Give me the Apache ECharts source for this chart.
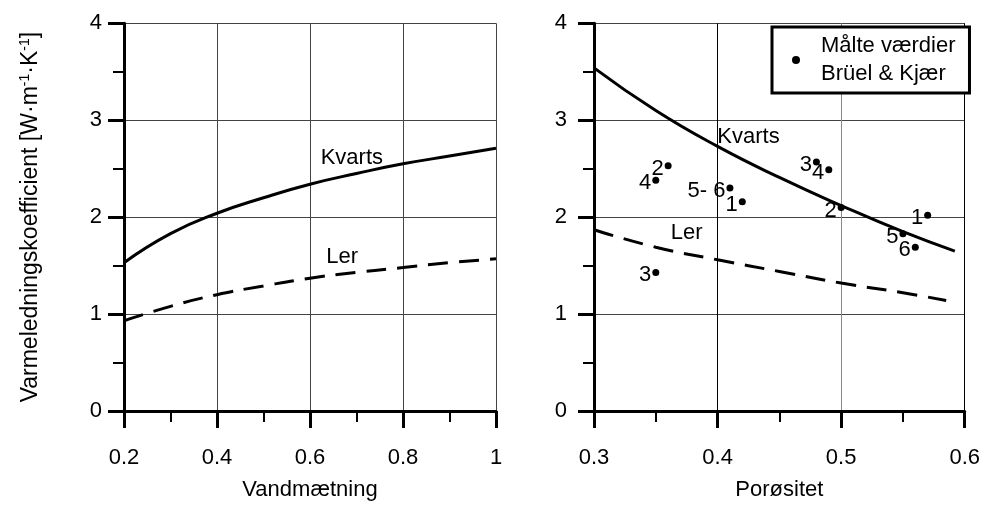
<!DOCTYPE html>
<html>
<head>
<meta charset="utf-8">
<script src="https://cdn.jsdelivr.net/npm/echarts@6/dist/echarts.min.js"></script>
<style>html,body{margin:0;padding:0;background:#fff}#c{width:983px;height:506px}</style>
</head>
<body>
<div id="c"></div>
<script>
// ---- Data ----
// Left panel: thermal conductivity vs water saturation
const satX      = [0.2, 0.3, 0.4, 0.5, 0.6, 0.7, 0.8, 0.9, 1.0];
const kvartsL   = [1.53, 1.83, 2.04, 2.20, 2.34, 2.45, 2.55, 2.63, 2.71];
const lerL      = [0.93, 1.08, 1.20, 1.29, 1.37, 1.43, 1.48, 1.53, 1.57];
// Right panel: thermal conductivity vs porosity
const porXK     = [0.3, 0.35, 0.4, 0.45, 0.5, 0.55, 0.592];
const kvartsR   = [3.54, 3.10, 2.73, 2.41, 2.12, 1.85, 1.65];
const porXL     = [0.3, 0.35, 0.4, 0.45, 0.5, 0.55, 0.585];
const lerR      = [1.87, 1.69, 1.56, 1.44, 1.32, 1.22, 1.14];
// Measured values (Brüel & Kjær)
const ptX       = [0.360, 0.350, 0.410, 0.420, 0.480, 0.490, 0.500, 0.570, 0.550, 0.560, 0.350];
const ptY       = [2.53, 2.38, 2.30, 2.16, 2.57, 2.49, 2.10, 2.02, 1.83, 1.69, 1.43];
const ptLabel   = ['2', '4', '5- 6', '1', '3', '4', '2', '1', '5', '6', '3'];
// Tick labels
const xTicksL   = [0.2, 0.4, 0.6, 0.8, 1];
const xTicksR   = [0.3, 0.4, 0.5, 0.6];
const yTicks    = [0, 1, 2, 3, 4];
// Curve name labels (data coordinates)
const curveNames = ['Kvarts', 'Ler'];
const nameCoordL = [[0.69, 2.61], [0.669, 1.59]];
const nameCoordR = [[0.425, 2.83], [0.375, 1.84]];
const legendName = 'Målte værdier\nBrüel & Kjær';

const FONT = "'Liberation Sans', Arial, sans-serif";
const FS = 22;

function zip(xs, ys) { return xs.map((x, i) => [x, ys[i]]); }

function yAxisCfg(gridIndex, margin, withName) {
  const a = {
    type: 'value', gridIndex: gridIndex,
    min: yTicks[0], max: yTicks[yTicks.length - 1], interval: 1,
    axisLine: { show: true, onZero: false, lineStyle: { color: '#000', width: 3 } },
    axisTick: { show: true, length: 16, lineStyle: { color: '#000', width: 3 } },
    minorTick: { show: true, splitNumber: 2, length: 11, lineStyle: { color: '#000', width: 2 } },
    splitLine: { show: true, lineStyle: { color: '#444', width: 1 } },
    axisLabel: { margin: margin, fontSize: FS, fontFamily: FONT, color: '#000' }
  };
  if (withName) {
    a.name = 'Varmeledningskoefficient [W·m{s|-1}·K{s|-1}]';
    a.nameLocation = 'middle';
    a.nameGap = 80;
    a.nameRotate = 90;
    a.nameTextStyle = {
      fontSize: 23, fontFamily: FONT, color: '#000',
      rich: { s: { fontSize: 14, fontFamily: FONT, color: '#000', verticalAlign: 'top', lineHeight: 26 } }
    };
  }
  return a;
}

function xAxisCfg(gridIndex, ticks, interval, name, splitColors) {
  return {
    type: 'value', gridIndex: gridIndex,
    min: ticks[0], max: ticks[ticks.length - 1], interval: interval,
    name: name, nameLocation: 'middle', nameGap: 68,
    nameTextStyle: { fontSize: FS, fontFamily: FONT, color: '#000' },
    axisLine: { show: true, onZero: false, lineStyle: { color: '#000', width: 3 } },
    axisTick: { show: true, length: 17, lineStyle: { color: '#000', width: 3 } },
    minorTick: { show: true, splitNumber: 2, length: 11, lineStyle: { color: '#000', width: 2 } },
    splitLine: { show: true, lineStyle: { color: splitColors, width: 1 } },
    axisLabel: {
      margin: 36, fontSize: FS, fontFamily: FONT, color: '#000',
      formatter: v => { const t = ticks.find(k => Math.abs(k - v) < 1e-6); return t === undefined ? '' : String(t); }
    }
  };
}

function nameMark(coord, text) {
  return {
    coord: coord, symbol: 'rect', symbolSize: 1,
    itemStyle: { color: 'rgba(0,0,0,0)' },
    label: { show: true, position: 'inside', formatter: text, color: '#000', fontSize: FS, fontFamily: FONT }
  };
}

function curve(xi, xs, ys, dashed, mark) {
  return {
    type: 'line', xAxisIndex: xi, yAxisIndex: xi, data: zip(xs, ys),
    smooth: 0.5, showSymbol: false, symbol: 'none',
    lineStyle: { color: '#000', width: 3, type: dashed ? [20, 11] : 'solid' }, z: 3,
    markPoint: { data: [mark], silent: true }
  };
}

const chart = echarts.init(document.getElementById('c'), null, { renderer: 'canvas' });
chart.setOption({
  animation: false,
  backgroundColor: '#fff',
  grid: [
    { left: 124, top: 23.3, width: 372, height: 387.7 },
    { left: 594, top: 23.3, width: 372, height: 387.7 }
  ],
  xAxis: [
    xAxisCfg(0, xTicksL, 0.2, 'Vandmætning', ['#444']),
    xAxisCfg(1, xTicksR, 0.1, 'Porøsitet', ['#000', '#000', '#888', '#000'])
  ],
  yAxis: [yAxisCfg(0, 22, true), yAxisCfg(1, 27, false)],
  legend: {
    data: [{ name: legendName, icon: 'circle' }],
    left: 772, top: 27,
    orient: 'vertical',
    selectedMode: false,
    itemWidth: 8, itemHeight: 8,
    padding: [5, 14, 5, 20],
    backgroundColor: '#fff',
    borderColor: '#000', borderWidth: 3, borderRadius: 0,
    itemStyle: { opacity: 1 },
    textStyle: { fontSize: FS, fontFamily: FONT, color: '#000', lineHeight: 28, padding: [0, 0, 0, 16] }
  },
  series: [
    curve(0, satX, kvartsL, false, nameMark(nameCoordL[0], curveNames[0])),
    curve(0, satX, lerL, true, nameMark(nameCoordL[1], curveNames[1])),
    curve(1, porXK, kvartsR, false, nameMark(nameCoordR[0], curveNames[0])),
    curve(1, porXL, lerR, true, nameMark(nameCoordR[1], curveNames[1])),
    {
      name: legendName,
      type: 'scatter', xAxisIndex: 1, yAxisIndex: 1,
      data: zip(ptX, ptY),
      symbol: 'circle', symbolSize: 7,
      itemStyle: { color: '#000', opacity: 1 }, z: 4,
      label: {
        show: true, position: 'left', distance: 1, offset: [0, 3],
        color: '#000', fontSize: FS, fontFamily: FONT,
        formatter: p => ptLabel[p.dataIndex]
      }
    }
  ]
});
</script>
</body>
</html>
